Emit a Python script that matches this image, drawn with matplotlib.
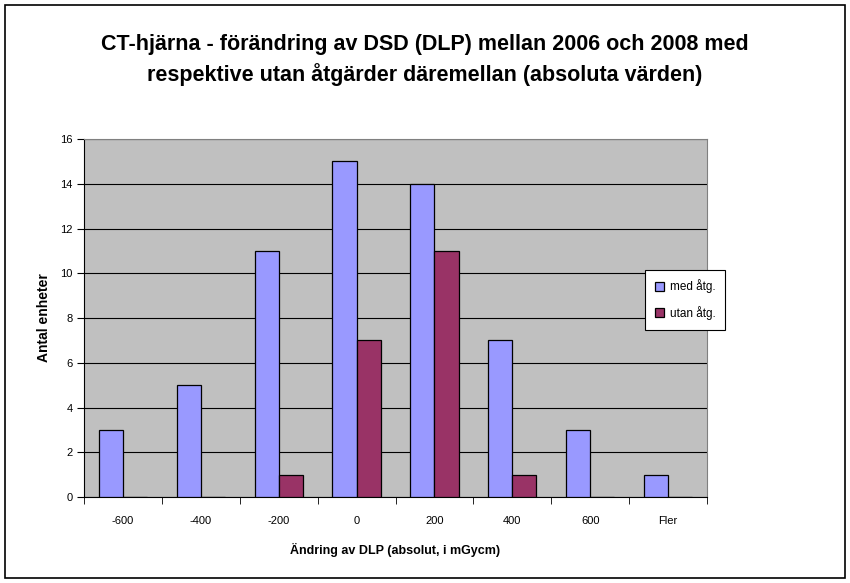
import numpy as np
import matplotlib.pyplot as plt
from matplotlib.patches import Rectangle

plt.rcParams['font.family'] = ['Liberation Sans', 'DejaVu Sans']

kategorier = ['-600', '-400', '-200', '0', '200', '400', '600', 'Fler']
med_atg = [3, 5, 11, 15, 14, 7, 3, 1]
utan_atg = [0, 0, 1, 7, 11, 1, 0, 0]

fig = plt.figure(figsize=(8.5, 5.83), dpi=100)
fig.patches.append(Rectangle((0.006, 0.008), 0.988, 0.984, transform=fig.transFigure,
                             fill=False, edgecolor='black', linewidth=1.2))

ax = fig.add_axes([0.0988, 0.1475, 0.733, 0.614])
ax.set_facecolor('#C0C0C0')

x = np.arange(len(kategorier))
w = 0.31
ax.bar(x - w / 2, med_atg, w, color='#9999FF', edgecolor='black', linewidth=0.9,
       label='med åtg.', zorder=3)
ax.bar(x + w / 2, utan_atg, w, color='#993366', edgecolor='black', linewidth=0.9,
       label='utan åtg.', zorder=3)

ax.set_xlim(-0.5, len(kategorier) - 0.5)
ax.set_ylim(0, 16)
ax.set_yticks(range(0, 17, 2))
ax.yaxis.grid(True, color='black', linewidth=0.8, zorder=1)
ax.set_xticks(x)
ax.set_xticklabels(kategorier)
ax.set_xticks(np.arange(-0.5, len(kategorier)), minor=True)
ax.tick_params(axis='x', which='major', length=0, pad=14, labelsize=8)
ax.tick_params(axis='x', which='minor', length=5, direction='out', color='black')
ax.tick_params(axis='y', length=5, direction='out', labelsize=8, pad=3)

for s in ['top', 'right']:
    ax.spines[s].set_color('#808080')
ax.spines['left'].set_color('black')
ax.spines['bottom'].set_color('black')

ax.set_xlabel('Ändring av DLP (absolut, i mGycm)', fontsize=9, fontweight='bold', labelpad=12)
ax.set_ylabel('Antal enheter', fontsize=10, fontweight='bold', labelpad=7)

fig.text(0.5, 0.897, 'CT-hjärna - förändring av DSD (DLP) mellan 2006 och 2008 med\n'
         'respektive utan åtgärder däremellan (absoluta värden)',
         ha='center', va='center', fontsize=15.5, fontweight='bold', linespacing=1.45)

leg = fig.legend(loc='center left', bbox_to_anchor=(0.752, 0.486), fontsize=8.5,
                 frameon=True, fancybox=False, edgecolor='black', framealpha=1,
                 handlelength=0.8, handleheight=0.8, handletextpad=0.5,
                 labelspacing=1.1, borderpad=0.8)
leg.get_frame().set_linewidth(0.8)

fig.savefig('out.png', dpi=100)
